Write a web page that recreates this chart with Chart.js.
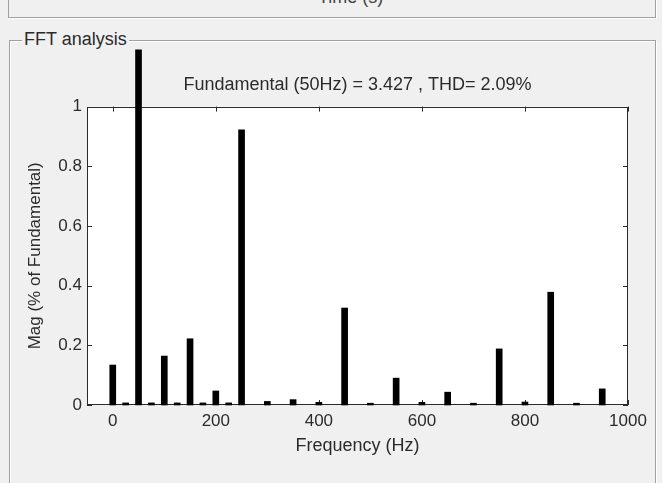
<!DOCTYPE html>
<html>
<head>
<meta charset="utf-8">
<script src="https://cdn.jsdelivr.net/npm/chart.js@4.4.0/dist/chart.umd.min.js"></script>
<style>
  html, body { margin: 0; padding: 0; background: #f0f0f0; }
  body { width: 662px; height: 483px; position: relative; overflow: hidden; font-family: "Liberation Sans", Arial, sans-serif; color: #2b2b2b; }
  .top-panel { position: absolute; left: 8px; top: -20px; width: 646px; height: 36px; border: 1px solid #a0a0a0; box-shadow: 1px 1px 0 #fff; }
  .top-panel-text { position: absolute; left: 318px; top: -13px; font-size: 18px; color: #444; }
  .group-box { position: absolute; left: 9px; top: 40px; width: 645px; height: 470px; border: 1px solid #a0a0a0; box-shadow: 1px 1px 0 #fff, inset 1px 1px 0 #fff; }
  .group-label { position: absolute; left: 22px; top: 29px; font-size: 18px; background: #f0f0f0; padding: 0 2px; color: #2b2b2b; }
  #fft { position: absolute; left: 0; top: 0; }
</style>
</head>
<body>
<div class="top-panel"></div>
<div class="top-panel-text">Time (s)</div>
<div class="group-box"></div>
<div class="group-label">FFT analysis</div>
<canvas id="fft" width="662" height="483"></canvas>
<script>
// spectrum (Hz / magnitude)
const freqs = [0, 25, 50, 75, 100, 125, 150, 175, 200, 225, 250, 300, 350, 400, 450,
               500, 550, 600, 650, 700, 750, 800, 850, 900, 950];
const mags = [0.134, 0.007, 1.19, 0.007, 0.164, 0.007, 0.222, 0.007, 0.047, 0.007, 0.922,
              0.012, 0.018, 0.009, 0.325, 0.006, 0.09, 0.009, 0.043, 0.006, 0.188, 0.01,
              0.378, 0.006, 0.054];
const xTicks = [0, 200, 400, 600, 800, 1000];
const yTicks = [0, 0.2, 0.4, 0.6, 0.8, 1];
const titleText = 'Fundamental (50Hz) = 3.427 , THD= 2.09%';

const textColor = '#2b2b2b';
const fontFamily = '"Liberation Sans", Arial, sans-serif';

// white plot area, box and inward ticks like matlab axes
const matlabAxes = {
    id: 'matlabAxes',
    beforeDraw(chart) {
        const a = chart.chartArea;
        const ctx = chart.ctx;
        ctx.save();
        ctx.fillStyle = '#ffffff';
        ctx.fillRect(a.left, a.top, a.right - a.left, a.bottom - a.top);
        ctx.restore();
    },
    beforeDatasetsDraw(chart) {
        const a = chart.chartArea;
        const ctx = chart.ctx;
        const xs = chart.scales.x;
        const ys = chart.scales.y;
        const len = 5;
        ctx.save();
        ctx.strokeStyle = '#2a2a2a';
        ctx.lineWidth = 1;
        ctx.strokeRect(Math.round(a.left) + 0.5, Math.round(a.top) + 0.5,
                       Math.round(a.right - a.left) - 1, Math.round(a.bottom - a.top) - 1);
        ctx.beginPath();
        xTicks.forEach(v => {
            const px = Math.round(xs.getPixelForValue(v)) + 0.5;
            ctx.moveTo(px, a.bottom);
            ctx.lineTo(px, a.bottom - len);
            ctx.moveTo(px, a.top);
            ctx.lineTo(px, a.top + len);
        });
        yTicks.forEach(v => {
            const py = Math.round(ys.getPixelForValue(v)) + 0.5;
            ctx.moveTo(a.left, py);
            ctx.lineTo(a.left + len, py);
            ctx.moveTo(a.right, py);
            ctx.lineTo(a.right - len, py);
        });
        ctx.stroke();
        ctx.restore();
    }
};

const ctx = document.getElementById('fft').getContext('2d');

new Chart(ctx, {
    type: 'bar',
    data: {
        datasets: [{
            data: freqs.map((f, i) => ({ x: f, y: mags[i] })),
            backgroundColor: '#000000',
            borderWidth: 0,
            barThickness: 6,
            grouped: false,
            clip: false
        }]
    },
    options: {
        responsive: false,
        animation: false,
        layout: { padding: { left: 0, right: 34, top: 0, bottom: 0 } },
        plugins: {
            legend: { display: false },
            tooltip: { enabled: false },
            title: {
                display: true,
                fullSize: false,
                text: titleText,
                color: textColor,
                font: { family: fontFamily, size: 18, weight: 'normal' },
                padding: { top: 74, bottom: 11 }
            }
        },
        scales: {
            x: {
                type: 'linear',
                offset: false,
                min: -50,
                max: 1000,
                afterBuildTicks: s => { s.ticks = xTicks.map(v => ({ value: v })); },
                afterFit: s => { s.height = 78; },
                grid: { display: false, drawTicks: false, offset: false },
                border: { display: false },
                ticks: {
                    color: textColor,
                    padding: 6,
                    maxRotation: 0,
                    callback: v => String(v),
                    font: { family: fontFamily, size: 17 }
                },
                title: {
                    display: true,
                    text: 'Frequency (Hz)',
                    color: textColor,
                    font: { family: fontFamily, size: 18 },
                    padding: { top: 0, bottom: 26 }
                }
            },
            y: {
                min: 0,
                max: 1,
                afterBuildTicks: s => { s.ticks = yTicks.map(v => ({ value: v })); },
                afterFit: s => { s.width = 87; },
                grid: { display: false, drawTicks: false },
                border: { display: false },
                ticks: {
                    color: textColor,
                    padding: 5,
                    callback: v => String(v),
                    font: { family: fontFamily, size: 17 }
                },
                title: {
                    display: true,
                    text: 'Mag (% of Fundamental)',
                    color: textColor,
                    font: { family: fontFamily, size: 17 },
                    padding: { top: 25, bottom: 0 }
                }
            }
        }
    },
    plugins: [matlabAxes]
});
</script>
</body>
</html>
